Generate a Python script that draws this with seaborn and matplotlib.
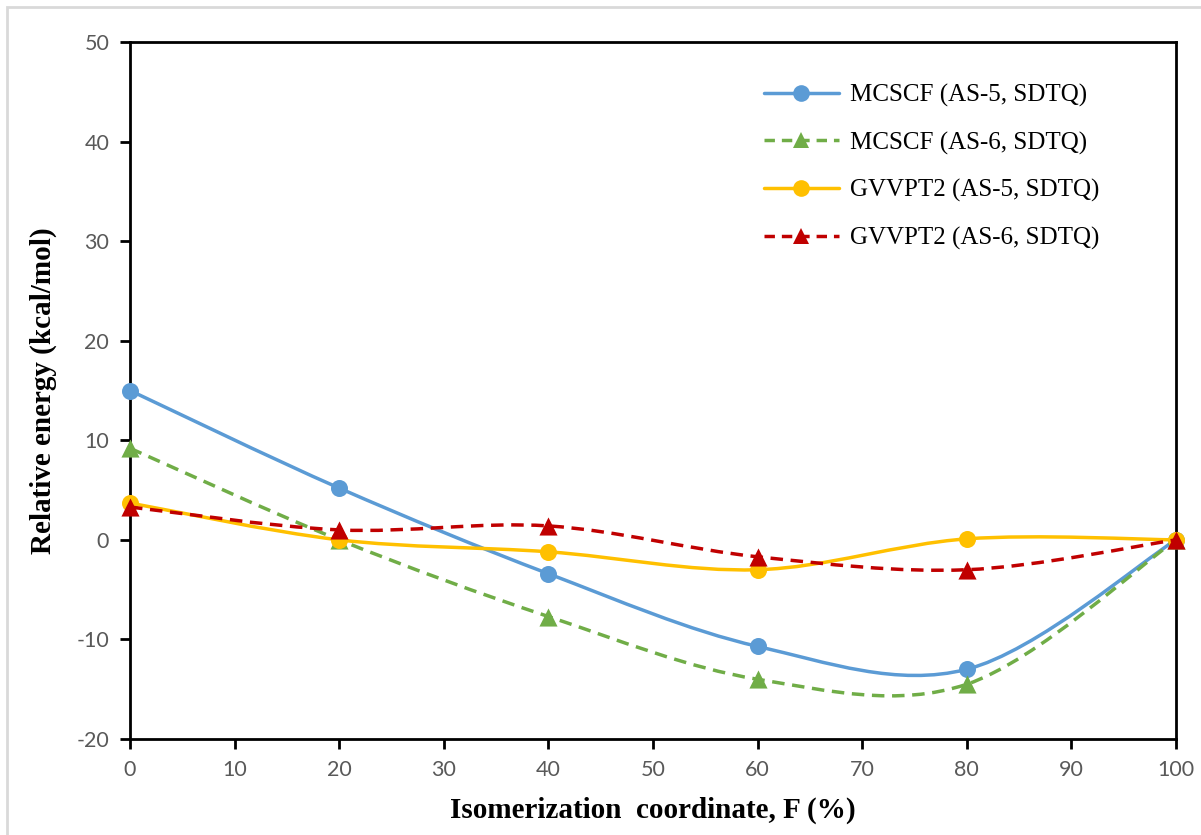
import numpy as np
import pandas as pd
import seaborn as sns
import matplotlib
matplotlib.use("Agg")
import matplotlib.pyplot as plt
from matplotlib.path import Path
from matplotlib.patches import PathPatch, Rectangle
from matplotlib.lines import Line2D

# ---- data ----
coord = [0, 20, 40, 60, 80, 100]
mcscf_as5 = [15.0, 5.2, -3.4, -10.7, -13.0, 0.0]
mcscf_as6 = [9.2, 0.0, -7.7, -14.0, -14.5, 0.0]
gvvpt2_as5 = [3.7, 0.0, -1.2, -3.0, 0.1, 0.0]
gvvpt2_as6 = [3.3, 1.0, 1.4, -1.7, -3.0, 0.0]
series_names = ["MCSCF (AS-5, SDTQ)", "MCSCF (AS-6, SDTQ)",
                "GVVPT2 (AS-5, SDTQ)", "GVVPT2 (AS-6, SDTQ)"]
x_ticks = [0, 10, 20, 30, 40, 50, 60, 70, 80, 90, 100]
y_ticks = [-20, -10, 0, 10, 20, 30, 40, 50]

series_vals = [mcscf_as5, mcscf_as6, gvvpt2_as5, gvvpt2_as6]
colors = ["#5B9BD5", "#70AD47", "#FFC000", "#C00000"]
markers = ["o", "^", "o", "^"]
dashed = [False, True, False, True]

sns.set_theme(style="white")
plt.rcParams["font.family"] = ["Lato", "DejaVu Sans"]
plt.rcParams["axes.unicode_minus"] = False

fig = plt.figure(figsize=(12.01, 8.35), dpi=100)
ax = fig.add_axes([130/1201, 1-739/835, (1176-130)/1201, (739-42)/835])

# light outer frame of the original image
fig.patches.append(Rectangle((7/1201, -0.01), 1.02, 1-7/835+0.01, transform=fig.transFigure,
                             fill=False, edgecolor="#D9D9D9", linewidth=2))


def smooth_path(xs, ys):
    # Excel-style smoothed line: cubic Bezier segments through the data points
    pts = np.column_stack([xs, ys]).astype(float)
    n = len(pts)
    verts = [pts[0]]
    codes = [Path.MOVETO]
    for i in range(n - 1):
        p0 = pts[i - 1] if i > 0 else pts[i]
        p1 = pts[i]
        p2 = pts[i + 1]
        p3 = pts[i + 2] if i + 2 < n else pts[i + 1]
        c1 = p1 + (p2 - p0) / 6.0
        c2 = p2 - (p3 - p1) / 6.0
        verts += [c1, c2, p2]
        codes += [Path.CURVE4] * 3
    return Path(verts, codes)


handles = []
for k, (name, vals) in enumerate(zip(series_names, series_vals)):
    ls = (0, (3.6, 2.2)) if dashed[k] else "-"
    patch = PathPatch(smooth_path(coord, vals), facecolor="none", edgecolor=colors[k],
                      linewidth=2.5, linestyle=ls, zorder=2 + 2*k, capstyle="butt")
    ax.add_patch(patch)
    df = pd.DataFrame({"x": coord, "y": vals})
    sns.scatterplot(data=df, x="x", y="y", marker=markers[k], color=colors[k],
                    s=150 if markers[k] == "o" else 170, edgecolor=colors[k], linewidth=0,
                    ax=ax, zorder=3 + 2*k, clip_on=False, legend=False)
    handles.append(Line2D([0], [0], color=colors[k], linewidth=2.5,
                          linestyle=(0, (3.0, 2.0)) if dashed[k] else "-",
                          marker=markers[k], markersize=12, markeredgewidth=0))

ax.set_xlim(0, 100)
ax.set_ylim(-20, 50)
ax.set_xticks(x_ticks)
ax.set_yticks(y_ticks)
for s in ax.spines.values():
    s.set_color("black")
    s.set_linewidth(2)
ax.tick_params(axis="both", which="major", direction="out", length=7, width=2,
               color="black", labelsize=15.5, labelcolor="#595959",
               bottom=True, left=True, pad=8)
ax.set_xlabel("Isomerization  coordinate, F (%)", family="Liberation Serif",
              fontweight="bold", fontsize=21, color="black", labelpad=12)
ax.set_ylabel("Relative energy (kcal/mol)", family="Liberation Serif",
              fontweight="bold", fontsize=21, color="black", labelpad=14)

leg = ax.legend(handles, series_names, loc="upper left",
                bbox_to_anchor=(0.606, 0.94), frameon=False,
                prop={"family": "Liberation Serif", "size": 18},
                handlelength=3.0, handletextpad=0.45, labelspacing=0.98,
                borderpad=0, borderaxespad=0)
for t in leg.get_texts():
    t.set_color("black")

fig.savefig("out.png", dpi=100)
